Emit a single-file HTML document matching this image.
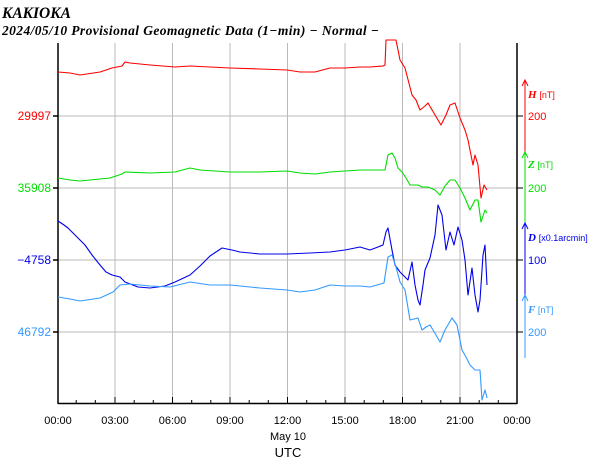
<!DOCTYPE html>
<html><head><meta charset="utf-8"><style>
body{margin:0;background:#fff;}
svg{display:block;font-family:"Liberation Sans",sans-serif;}
.t{font-family:"Liberation Serif",serif;font-weight:bold;font-style:italic;}
</style></head><body>
<svg width="600" height="458" viewBox="0 0 600 458" xmlns="http://www.w3.org/2000/svg">
<text x="2" y="18" class="t" font-size="15.5">KAKIOKA</text>
<text x="2" y="35" class="t" font-size="13.5" letter-spacing="0.4">2024/05/10  Provisional Geomagnetic Data (1−min)  − Normal −</text>
<g stroke="#bbb" stroke-width="1">
<line x1="115" y1="43" x2="115" y2="403"/><line x1="172.5" y1="43" x2="172.5" y2="403"/><line x1="230" y1="43" x2="230" y2="403"/><line x1="287.5" y1="43" x2="287.5" y2="403"/><line x1="345" y1="43" x2="345" y2="403"/><line x1="402.5" y1="43" x2="402.5" y2="403"/><line x1="460" y1="43" x2="460" y2="403"/>
<line x1="58" y1="116" x2="517" y2="116"/><line x1="58" y1="188" x2="517" y2="188"/><line x1="58" y1="260" x2="517" y2="260"/><line x1="58" y1="332" x2="517" y2="332"/>
</g>
<g stroke="#000" stroke-width="1.5" fill="none">
<line x1="58" y1="43" x2="58" y2="404"/><line x1="517" y1="43" x2="517" y2="404"/><line x1="58" y1="403.5" x2="517" y2="403.5"/>
<line x1="53" y1="116" x2="58" y2="116"/><line x1="53" y1="188" x2="58" y2="188"/><line x1="53" y1="260" x2="58" y2="260"/><line x1="53" y1="332" x2="58" y2="332"/>
<line x1="517" y1="116" x2="523" y2="116" stroke-width="1"/><line x1="517" y1="188" x2="523" y2="188" stroke-width="1"/><line x1="517" y1="260" x2="523" y2="260" stroke-width="1"/><line x1="517" y1="332" x2="523" y2="332" stroke-width="1"/>
</g>
<g stroke="#000" stroke-width="1">
<path d="M76.2 403v-3M95.3 403v-3M134.2 403v-3M153.3 403v-3M191.7 403v-3M210.8 403v-3M249.2 403v-3M268.3 403v-3M306.7 403v-3M325.8 403v-3M364.2 403v-3M383.3 403v-3M421.7 403v-3M440.8 403v-3M479.2 403v-3M498.3 403v-3"/>
<path d="M58 403v-6M115 403v-6M172.5 403v-6M230 403v-6M287.5 403v-6M345 403v-6M402.5 403v-6M460 403v-6M517 403v-6"/>
</g>
<g font-size="12" text-anchor="end">
<text x="51" y="120" fill="#f00">29997</text>
<text x="51" y="192" fill="#0d0">35908</text>
<text x="51" y="264" fill="#00e">−4758</text>
<text x="51" y="336" fill="#39f">46792</text>
</g>
<g font-size="11" text-anchor="middle" fill="#000">
<text x="58" y="424">00:00</text><text x="115" y="424">03:00</text><text x="172.5" y="424">06:00</text><text x="230" y="424">09:00</text><text x="287.5" y="424">12:00</text><text x="345" y="424">15:00</text><text x="402.5" y="424">18:00</text><text x="460" y="424">21:00</text><text x="517" y="424">00:00</text>
<text x="288" y="440">May 10</text>
<text x="288" y="457" font-size="13">UTC</text>
</g>
<g stroke-width="1" fill="none">
<line x1="525" y1="81" x2="525" y2="153" stroke="#f00"/><path d="M522 86l3-6 3 6" stroke="#f00"/>
<line x1="525" y1="153" x2="525" y2="224" stroke="#0d0"/><path d="M522 158l3-6 3 6" stroke="#0d0"/>
<line x1="525" y1="224" x2="525" y2="296" stroke="#00e"/><path d="M522 229l3-6 3 6" stroke="#00e"/>
<line x1="525" y1="296" x2="525" y2="358" stroke="#39f"/><path d="M522 301l3-6 3 6" stroke="#39f"/>
</g>
<g font-size="11">
<text x="528" y="98" class="t" fill="#f00">H <tspan font-family="Liberation Sans" font-weight="normal" font-style="normal" font-size="9">[nT]</tspan></text>
<text x="528" y="120" fill="#f00">200</text>
<text x="528" y="168" class="t" fill="#0d0">Z <tspan font-family="Liberation Sans" font-weight="normal" font-style="normal" font-size="9">[nT]</tspan></text>
<text x="528" y="192" fill="#0d0">200</text>
<text x="528" y="241" class="t" fill="#00e">D <tspan font-family="Liberation Sans" font-weight="normal" font-style="normal" font-size="9">[x0.1arcmin]</tspan></text>
<text x="528" y="264" fill="#00e">100</text>
<text x="528" y="313" class="t" fill="#39f">F <tspan font-family="Liberation Sans" font-weight="normal" font-style="normal" font-size="9">[nT]</tspan></text>
<text x="528" y="336" fill="#39f">200</text>
</g>
<g fill="none" stroke-width="1.1" stroke-linejoin="round">
<polyline stroke="#f00" points="58,72 70,73 80,75 100,72 112,68 122,66 125,62 130,63 150,65 175,67 190,66 230,68 260,69 287,70 300,72 315,72 330,68 345,68 360,67 370,67 383,66 385,65 386,40 396,40 400,60 405,68 412,95 416,100 420,110 425,106 428,103 438,120 441,125 446,115 450,105 455,103 460,118 465,130 468,140 473,165 475,155 478,165 481,198 484,185 487,190"/>
<polyline stroke="#0d0" points="58,178 70,180 80,181 100,179 110,178 122,174 125,172 150,173 175,172 190,168 200,170 230,172 260,172 287,171 300,173 315,174 330,172 345,171 360,170 375,170 385,170 388,155 392,153 395,158 398,168 402,172 406,178 410,185 418,185 422,187 428,187 435,190 440,195 445,186 450,180 455,180 460,188 465,198 470,210 475,200 478,200 481,222 485,210 487,213"/>
<polyline stroke="#00e" points="58,221 64,225 68,228 72,232 78,238 85,245 92,255 100,265 106,272 112,275 120,277 125,282 138,287 150,288 165,286 175,282 190,275 200,266 210,256 222,248 232,250 240,252 260,254 287,254 310,253 330,252 345,250 360,247 370,250 378,247 383,245 386,232 388,228 392,250 395,265 400,272 408,280 412,262 415,285 418,300 420,305 423,285 425,270 430,258 435,235 438,205 442,215 446,250 450,232 454,245 458,227 462,240 465,260 468,295 472,268 475,295 478,312 480,300 483,255 485,245 487,285"/>
<polyline stroke="#39f" points="58,297 70,299 80,301 100,298 113,292 120,285 130,284 150,286 170,287 190,282 210,285 230,285 260,288 287,290 300,292 315,290 330,285 345,286 360,286 370,287 384,283 388,257 392,255 396,267 400,282 405,290 410,320 418,318 422,330 426,327 430,325 436,335 440,342 445,330 452,318 457,325 462,350 466,357 470,365 475,370 480,370 482,400 485,390 487,398"/>
</g>
</svg>
</body></html>
